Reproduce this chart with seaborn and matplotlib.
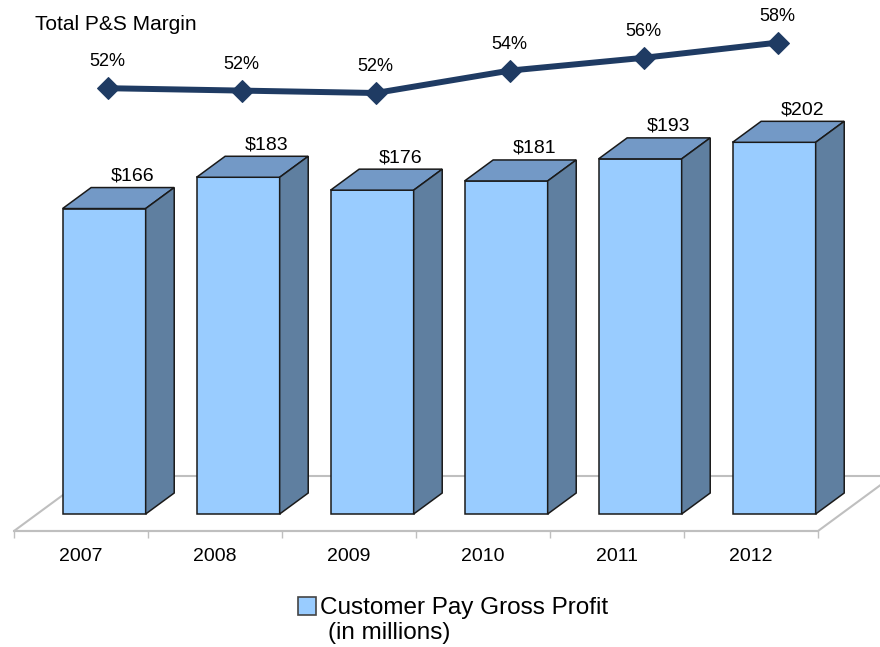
import numpy as np
import pandas as pd
import matplotlib.pyplot as plt
from matplotlib.patches import Polygon, Patch
import seaborn as sns

# data
years = ['2007', '2008', '2009', '2010', '2011', '2012']
gross_profit = [166, 183, 176, 181, 193, 202]       # $ millions
margin = [52.2, 51.9, 51.6, 54.4, 56.0, 57.9]       # total P&S margin, %

df = pd.DataFrame({'year': years, 'profit': gross_profit, 'margin': margin})

sns.set_theme(style='white')
plt.rcParams['font.family'] = ['Liberation Sans', 'DejaVu Sans']
plt.rcParams['text.color'] = 'black'

FRONT = '#99CCFF'
TOP = '#7399C6'
SIDE = '#5F7FA0'
EDGE = '#1A1A1A'
NAVY = '#1F3B63'
FLOOR = '#BFBFBF'

W, H = 880, 647
fig = plt.figure(figsize=(W / 100, H / 100), dpi=100)
ax = fig.add_axes([0, 0, 1, 1])

# scale of the reference picture
px_cat = 134.0    # px per category
px_val = 1.84     # px per $M
slant = 1.36      # horizontal px per px of depth (fake 3d)
x0_px = 14        # left end of floor front edge
base_px = 514     # front bottom of the bars


def depth(z):
    # z px of depth -> (dx in categories, dy in $M)
    return z * slant / px_cat, z / px_val


gap_dx, gap_dy = depth(17)
bar_dx, bar_dy = depth(21)
floor_dx, floor_dy = depth(55)

sns.barplot(data=df, x='year', y='profit', ax=ax, width=0.62, color=FRONT,
            saturation=1, edgecolor=EDGE, linewidth=1.1, zorder=3)

# 3d faces for every bar
for p in ax.patches:
    p.set_x(p.get_x() + gap_dx)
    x0 = p.get_x()
    x1 = x0 + p.get_width()
    h = p.get_height()
    top = [(x0, h), (x1, h), (x1 + bar_dx, h + bar_dy), (x0 + bar_dx, h + bar_dy)]
    side = [(x1, 0), (x1 + bar_dx, bar_dy), (x1 + bar_dx, h + bar_dy), (x1, h)]
    ax.add_patch(Polygon(top, closed=True, facecolor=TOP, edgecolor=EDGE, lw=1.1, zorder=3))
    ax.add_patch(Polygon(side, closed=True, facecolor=SIDE, edgecolor=EDGE, lw=1.1, zorder=3))
    ax.text(x0 + p.get_width() / 2 + bar_dx, h + bar_dy + 7 / px_val, f'${h:.0f}',
            ha='center', va='baseline', fontsize=14, color='black', zorder=4)

# floor
n = len(years)
fy0 = -gap_dy
fy1 = -gap_dy + floor_dy
floor = [(-0.5, fy0), (n - 0.5, fy0), (n - 0.5 + floor_dx, fy1), (-0.5 + floor_dx, fy1)]
ax.add_patch(Polygon(floor, closed=True, facecolor='white', edgecolor=FLOOR, lw=1.5, zorder=1))

left = -0.5 - x0_px / px_cat
ax.set_xlim(left, left + W / px_cat)
ax.set_ylim(-(H - base_px) / px_val, base_px / px_val)

for s in ['top', 'right', 'left']:
    ax.spines[s].set_visible(False)
ax.spines['bottom'].set_position(('data', fy0))
ax.spines['bottom'].set_bounds(-0.5, n - 0.5)
ax.spines['bottom'].set_color(FLOOR)
ax.spines['bottom'].set_linewidth(1.5)
ax.set_yticks([])
ax.set_xlabel('')
ax.set_ylabel('')
ax.set_xticks(np.arange(-0.5, n), labels=[''] * (n + 1))
ax.set_xticks(np.arange(n), labels=years, minor=True)
ax.tick_params(axis='x', which='major', bottom=True, length=5, width=1, color=FLOOR, direction='out')
ax.tick_params(axis='x', which='minor', bottom=True, length=0, pad=12, labelsize=14, labelcolor='black')

# margin line on its own scale
ax2 = ax.twinx()
pos = np.arange(n) + 0.2
sns.lineplot(x=pos, y=margin, ax=ax2, color=NAVY, lw=4.3, marker='D', markersize=11,
             markeredgecolor=NAVY)
for xp, m in zip(pos, margin):
    ax2.annotate(f'{m:.0f}%', (xp, m), xytext=(0, 19), textcoords='offset points',
                 ha='center', va='center', fontsize=13, color='black')
ax2.set_ylim((505.8 - H) / 8, 505.8 / 8)
ax2.set_axis_off()

fig.text(35 / W, 1 - 30 / H, 'Total P&S Margin', fontsize=15, va='baseline')

handle = Patch(facecolor=FRONT, edgecolor='#444444', lw=1.2)
fig.legend(handles=[handle], labels=['Customer Pay Gross Profit'], loc='upper left',
           bbox_to_anchor=(298 / W, 1 - 597 / H), frameon=False, fontsize=17.5,
           handlelength=0.75, handleheight=0.75, handletextpad=0.15,
           borderpad=0, borderaxespad=0)
fig.text(328 / W, 1 - 639 / H, '(in millions)', fontsize=17.5, va='baseline')

fig.savefig('out.png', dpi=100)
